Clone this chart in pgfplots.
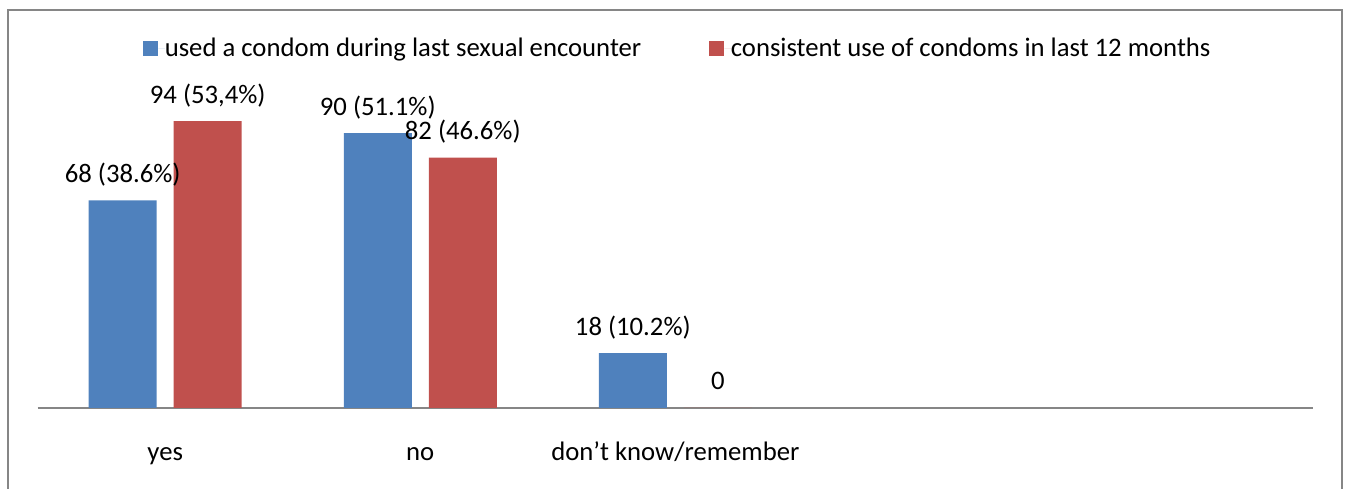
\documentclass[border=0pt]{standalone}
\usepackage{fontspec}
\setmainfont{Carlito}
\usepackage{pgfplots}
\pgfplotsset{compat=1.18}
\definecolor{cblue}{HTML}{4F81BD}
\definecolor{cred}{HTML}{C0504D}
\definecolor{frame}{RGB}{134,134,134}
\begin{document}
\fontsize{26.7pt}{31pt}\selectfont
\begin{tikzpicture}[x=1pt,y=1pt]
\useasboundingbox (0,0) rectangle (1349,489);
\draw[frame, line width=2pt] (8,-5) -- (8,479) -- (1342,479) -- (1342,-5);
\begin{axis}[
  at={(37.7pt,81pt)}, anchor=south west,
  scale only axis, width=1275.3pt, height=305.3pt,
  xmin=-0.5, xmax=4.5, ymin=0, ymax=100,
  axis x line*=bottom, axis y line=none,
  axis line style={draw=frame, line width=1.5pt},
  xtick={0,1,2}, xticklabels={yes,no,don’t know/remember},
  major tick length=0pt,
  xticklabel style={anchor=base, yshift=-52.5pt},
  ybar, bar width=68pt,
  point meta=explicit symbolic,
  nodes near coords,
  every node near coord/.append style={anchor=base, yshift=18pt, inner sep=0pt},
  legend columns=2,
  legend style={draw=none, fill=none, inner sep=0pt, outer sep=0pt,
    at={(axis description cs:0.0828,1.176)}, anchor=west,
    /tikz/every even column/.append style={column sep=68pt},
    nodes={inner sep=0pt, outer sep=0pt}},
  legend image code/.code={\fill[#1, draw=none] (0pt,-7.5pt) rectangle (15pt,7.5pt); \path (15pt,0) -- (21.5pt,0);},
  clip=false,
]
\addplot[fill=cblue, draw=none, bar shift=-42.5pt] coordinates {
 (0,68) [68 (38.6\%)]
 (1,90) [90 (51.1\%)]
 (2,18) [18 (10.2\%)]
};
\addplot[fill=cred, draw=none, bar shift=42.5pt] coordinates {
 (0,94) [94 (53,4\%)]
 (1,82) [82 (46.6\%)]
 (2,0) [0]
};
\legend{used a condom during last sexual encounter, consistent use of condoms in last 12 months}
\end{axis}
\end{tikzpicture}
\end{document}
